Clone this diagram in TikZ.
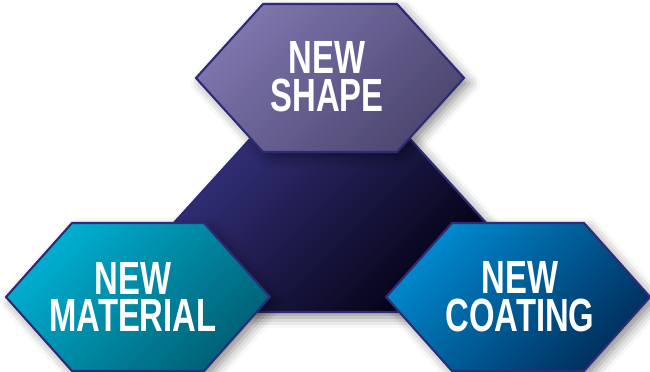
\documentclass[tikz,border=0pt]{standalone}
\usepackage{fontspec}
\newfontfamily\hexfont[FakeStretch=0.705]{Liberation Sans}
\usetikzlibrary{calc,shadows.blur}
\definecolor{hexline}{RGB}{46,42,120}
\definecolor{shapelight}{RGB}{126,118,174}
\definecolor{shapedark}{RGB}{76,70,112}
\definecolor{corelight}{RGB}{50,46,118}
\definecolor{coredark}{RGB}{2,0,18}
\definecolor{matlight}{RGB}{0,176,210}
\definecolor{matdark}{RGB}{0,96,116}
\definecolor{coatlight}{RGB}{0,138,208}
\definecolor{coatdark}{RGB}{0,46,92}
\tikzset{
	hexa/.style={draw=hexline,line width=1.2pt,line join=miter,
		blur shadow={shadow xshift=3pt,shadow yshift=-3pt,
			shadow blur radius=6pt,shadow opacity=45}},
	hextext/.style={text=white,align=center,inner sep=0pt,
		font=\hexfont\bfseries\fontsize{26.5}{21.5}\selectfont},
}
% hexagon round a centre: half top edge, half height
\newcommand{\hexpath}[3]{($(#1)+(-2*#2,0)$) -- ($(#1)+(-#2,#3)$) -- ($(#1)+(#2,#3)$)
	-- ($(#1)+(2*#2,0)$) -- ($(#1)+(#2,-#3)$) -- ($(#1)+(-#2,-#3)$) -- cycle}

\begin{document}
\begin{tikzpicture}[x=0.02cm,y=0.02cm]
		\useasboundingbox (0,0) rectangle (650,372);
		\coordinate (ccore) at (330,147);
		\coordinate (ctop) at (330,294);
		\coordinate (cmat) at (138,75);
		\coordinate (ccoat) at (518,75);
		
		\draw[hexa,top color=corelight,bottom color=coredark,shading angle=45]
		\hexpath{ccore}{79}{87};
		\draw[hexa,top color=shapelight,bottom color=shapedark,shading angle=45]
		\hexpath{ctop}{67}{74};
		\draw[hexa,top color=matlight,bottom color=matdark,shading angle=45]
		\hexpath{cmat}{66}{74};
		\draw[hexa,top color=coatlight,bottom color=coatdark,shading angle=45]
		\hexpath{ccoat}{66}{74};
		
		\node[hextext] (shape) at ($(ctop)+(-3,1)$) {NEW\\SHAPE};
		\node[hextext] (material) at ($(cmat)+(-5,0)$) {NEW\\MATERIAL};
		\node[hextext] (coating) at ($(ccoat)+(2,0)$) {NEW\\COATING};
	\end{tikzpicture}
\end{document}
